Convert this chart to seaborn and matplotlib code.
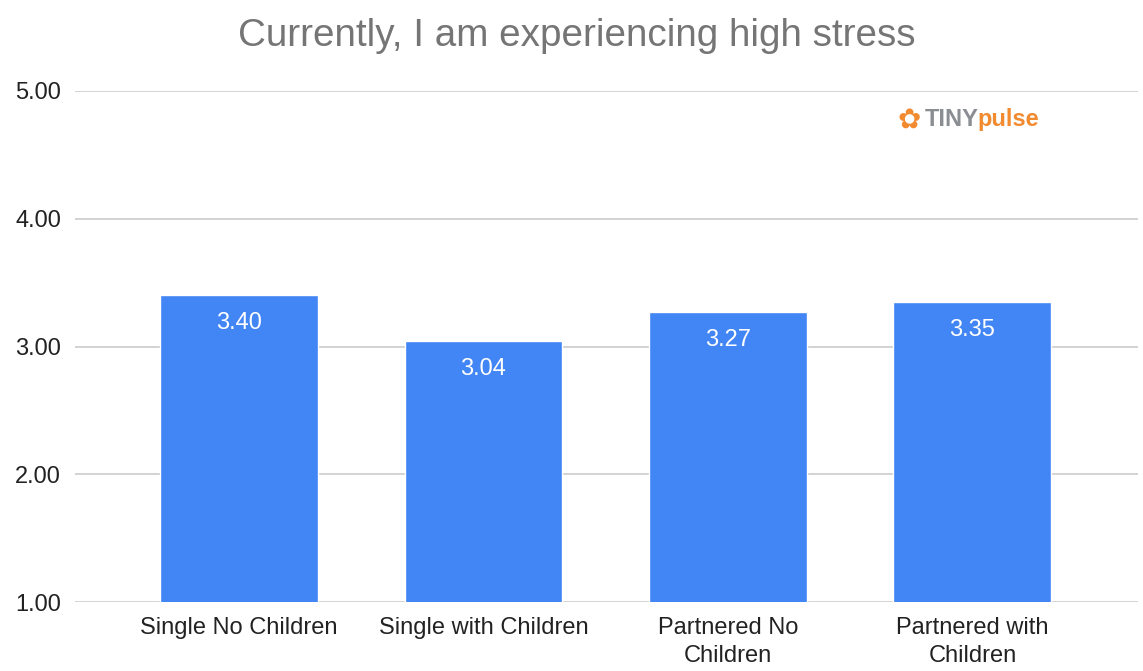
import matplotlib
matplotlib.use("Agg")
import matplotlib.pyplot as plt
import seaborn as sns
import pandas as pd

# Data
groups = ["Single No Children", "Single with Children", "Partnered No\nChildren", "Partnered with\nChildren"]
scores = [3.40, 3.04, 3.27, 3.35]
yticks = [1.00, 2.00, 3.00, 4.00, 5.00]

df = pd.DataFrame({"group": groups, "score": scores})

sns.set_style("white")
plt.rcParams["font.family"] = ["Liberation Sans", "DejaVu Sans"]

fig = plt.figure(figsize=(11.43, 6.71), dpi=100)
ax = fig.add_axes([0.0656, 0.1028, 0.930, 0.7616])

sns.barplot(data=df, x="group", y="score", color="#4285F4", saturation=1,
            width=0.646, ax=ax, zorder=3)

ax.set_ylim(1, 5)
ax.set_xlim(-0.671, 3.677)
ax.set_yticks(yticks)
ax.set_yticklabels([f"{t:.2f}" for t in yticks], fontsize=17, color="#222222")
ax.yaxis.grid(True, color="#cccccc", linewidth=1.2, zorder=0)
ax.tick_params(axis="both", length=0, pad=10)
ax.tick_params(axis="x", labelsize=17, labelcolor="#222222", pad=11)
for lbl in ax.get_xticklabels():
    lbl.set_linespacing(1.35)
ax.set_xlabel("")
ax.set_ylabel("")
for s in ax.spines.values():
    s.set_visible(False)

# value labels inside bars
for i, v in enumerate(scores):
    ax.annotate(f"{v:.2f}", (i, v), xytext=(0, -20), textcoords="offset points",
                ha="center", va="center", color="white", fontsize=17)

fig.text(0.505, 0.947, "Currently, I am experiencing high stress", ha="center", va="center",
         fontsize=27.8, color="#757575")

# logo
fig.text(0.795, 0.822, "✿", fontsize=20, color="#F28A30", ha="center", va="center",
         family=["DejaVu Sans"])
fig.text(0.809, 0.822, "TINY", fontsize=17, color="#8a8d91", fontweight="bold",
         ha="left", va="center")
fig.text(0.855, 0.822, "pulse", fontsize=17, color="#F28A30", fontweight="bold",
         ha="left", va="center")

fig.savefig("out.png", dpi=100, facecolor="white")
